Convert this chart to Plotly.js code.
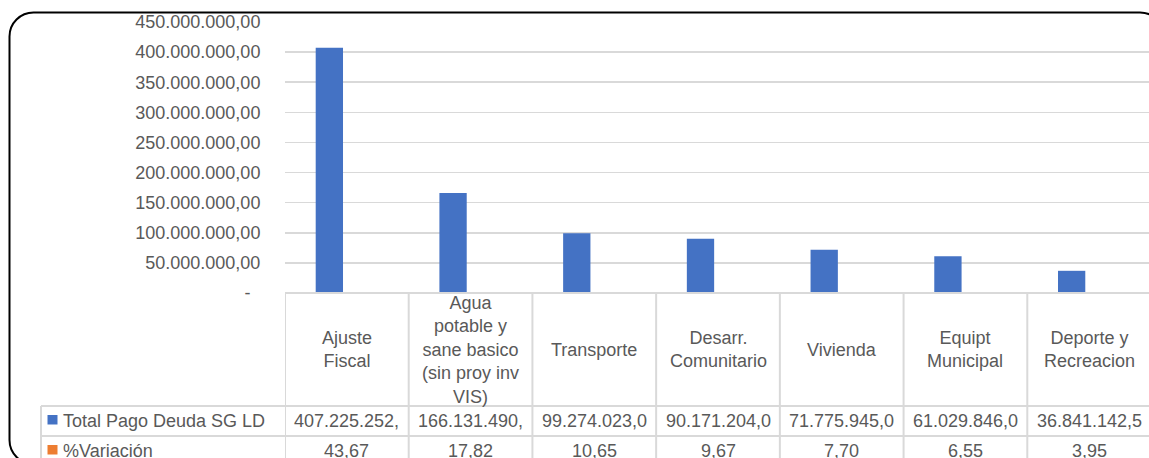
<!DOCTYPE html>
<html>
<head>
<meta charset="utf-8">
<script src="https://cdn.plot.ly/plotly-3.0.1.min.js"></script>
<style>
  html, body { margin: 0; padding: 0; overflow: hidden; background: #ffffff; }
  #chart { width: 1160px; height: 458px; }
</style>
</head>
<body>
<div id="chart"></div>
<script>
// ---- Data ----
const categories = ["Ajuste Fiscal", "Agua potable y sane basico (sin proy inv VIS)", "Transporte",
  "Desarr. Comunitario", "Vivienda", "Equipt Municipal", "Deporte y Recreacion"];
const categoryLabels = ["Ajuste<br>Fiscal", "Agua<br>potable y<br>sane basico<br>(sin proy inv<br>VIS)", "Transporte",
  "Desarr.<br>Comunitario", "Vivienda", "Equipt<br>Municipal", "Deporte y<br>Recreacion"];
const totalPago = [407225252.0, 166131490.0, 99274023.0, 90171204.0, 71775945.0, 61029846.0, 36841142.5];
const variacion = [43.67, 17.82, 10.65, 9.67, 7.70, 6.55, 3.95];
const seriesNames = ["Total Pago Deuda SG LD", "%Variación"];
const yTicks = [0, 50000000, 100000000, 150000000, 200000000, 250000000, 300000000, 350000000, 400000000, 450000000];

// ---- Helpers ----
function fmtEs(v, dec) {
  const parts = v.toFixed(dec).split(".");
  const int = parts[0].replace(/\B(?=(\d{3})+(?!\d))/g, ".");
  return parts.length > 1 ? int + "," + parts[1] : int;
}
const CELL_CHARS = 12; // text visible inside a table cell
const yTickText = yTicks.map(v => v === 0 ? "-\u00a0\u00a0" : fmtEs(v, 2));

const W = 1160, H = 458;
const M = { l: 285, r: 9, t: 22, b: 165 };
const PW = W - M.l - M.r, PH = H - M.t - M.b;
const px = x => (x - M.l) / PW;
const py = y => (M.t + PH - y) / PH;

const FONT = "Liberation Sans, Arial, sans-serif";
const TXT = "#595959";
const GRID = "#d9d9d9";
const BLUE = "#4472C4", ORANGE = "#ED7D31";

// ---- Traces ----
const traces = [
  { type: "bar", x: categories, y: totalPago, name: seriesNames[0], marker: { color: BLUE }, hoverinfo: "none" },
  { type: "bar", x: categories, y: variacion, name: seriesNames[1], marker: { color: ORANGE }, hoverinfo: "none" }
];

// ---- Table (drawn under the axis) ----
const shapes = [];
const annotations = [];
const lineStyle = { color: GRID, width: 2 };
const headerTop = 293, headerBottom = 406, row1Bottom = 436, tableBottom = 475, tableLeft = 41;

// horizontal lines
shapes.push({ type: "line", xref: "paper", yref: "paper", x0: 0, x1: 1, y0: py(headerTop), y1: py(headerTop), line: lineStyle });
[headerBottom, row1Bottom].forEach(yy => shapes.push({ type: "line", xref: "paper", yref: "paper",
  x0: px(tableLeft), x1: 1, y0: py(yy), y1: py(yy), line: lineStyle }));
// vertical lines
shapes.push({ type: "line", xref: "paper", yref: "paper", x0: px(tableLeft), x1: px(tableLeft),
  y0: py(headerBottom), y1: py(tableBottom), line: lineStyle });
for (let k = 0; k <= categories.length; k++) {
  shapes.push({ type: "line", xref: "x", yref: "paper", x0: k - 0.5, x1: k - 0.5,
    y0: py(headerTop), y1: py(tableBottom), line: lineStyle });
}
// legend keys
[[415, BLUE], [445, ORANGE]].forEach(([yy, c]) => shapes.push({ type: "rect", xref: "paper", yref: "paper",
  x0: px(47.5), x1: px(57.5), y0: py(yy), y1: py(yy + 9.5), line: { width: 0 }, fillcolor: c }));

// outer rounded frame
(function () {
  const x0 = 9.5, y0 = 12.5, x1 = 1164, y1 = 464, r = 24, k = 0.5523 * r;
  const P = (x, y) => px(x) + "," + py(y);
  const path = "M" + P(x0 + r, y0) + " L" + P(x1 - r, y0) +
    " C" + P(x1 - r + k, y0) + " " + P(x1, y0 + r - k) + " " + P(x1, y0 + r) +
    " L" + P(x1, y1 - r) +
    " C" + P(x1, y1 - r + k) + " " + P(x1 - r + k, y1) + " " + P(x1 - r, y1) +
    " L" + P(x0 + r, y1) +
    " C" + P(x0 + r - k, y1) + " " + P(x0, y1 - r + k) + " " + P(x0, y1 - r) +
    " L" + P(x0, y0 + r) +
    " C" + P(x0, y0 + r - k) + " " + P(x0 + r - k, y0) + " " + P(x0 + r, y0) + " Z";
  shapes.push({ type: "path", xref: "paper", yref: "paper", path: path, line: { color: "#000000", width: 2 } });
})();

const tf = { family: FONT, size: 18, color: TXT };
// header category labels
categoryLabels.forEach((lab, i) => annotations.push({ xref: "x", yref: "paper", x: i, y: py(349.5),
  text: lab, showarrow: false, xanchor: "center", yanchor: "middle", align: "center", font: tf }));
// row labels
[[421, seriesNames[0]], [450.5, seriesNames[1]]].forEach(([yy, t]) => annotations.push({ xref: "paper", yref: "paper",
  x: px(61), y: py(yy), text: t, showarrow: false, xanchor: "left", yanchor: "middle", font: tf }));
// row values
totalPago.forEach((v, i) => annotations.push({ xref: "x", yref: "paper", x: i, y: py(421),
  text: fmtEs(v, 1).slice(0, CELL_CHARS), showarrow: false, xanchor: "center", yanchor: "middle", font: tf }));
variacion.forEach((v, i) => annotations.push({ xref: "x", yref: "paper", x: i, y: py(450.5),
  text: fmtEs(v, 2), showarrow: false, xanchor: "center", yanchor: "middle", font: tf }));

const layout = {
  width: W, height: H,
  margin: M,
  paper_bgcolor: "rgba(0,0,0,0)",
  plot_bgcolor: "rgba(0,0,0,0)",
  showlegend: false,
  barmode: "group",
  bargap: 0.434,
  bargroupgap: 0.22,
  font: { family: FONT, size: 18, color: TXT },
  xaxis: { type: "category", range: [-0.5, categories.length - 0.5], showticklabels: false,
    showgrid: false, zeroline: false, showline: false, ticks: "", fixedrange: true },
  yaxis: { range: [0, 450000000], tickmode: "array", tickvals: yTicks, ticktext: yTickText,
    showgrid: true, gridcolor: GRID, gridwidth: 1.5, zeroline: false, showline: false,
    ticks: "outside", ticklen: 0, tickcolor: "rgba(0,0,0,0)", ticklabelstandoff: 20,
    tickfont: { family: FONT, size: 18, color: TXT }, fixedrange: true },
  shapes: shapes,
  annotations: annotations
};

Plotly.newPlot("chart", traces, layout, { staticPlot: true, displayModeBar: false });
</script>
</body>
</html>
